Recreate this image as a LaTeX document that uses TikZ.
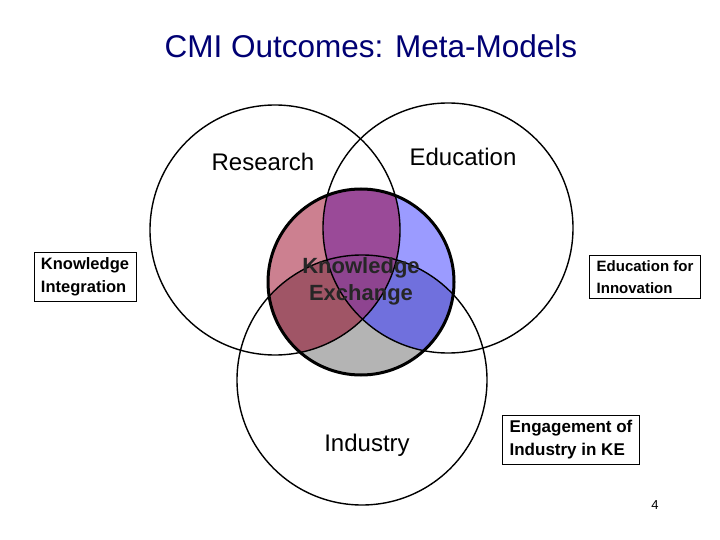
\documentclass[tikz,border=0pt]{standalone}
\usepackage{fontspec}
\setmainfont{Liberation Sans}
\begin{document}
\begin{tikzpicture}[x=1pt,y=-1pt,
  lbl/.style={font=\fontsize{24}{26}\selectfont},
  box/.style={draw=black,line width=0.6pt,align=left,inner xsep=7pt,inner ysep=5pt},
  circ/.style={draw=black,line width=1.4pt}]
\useasboundingbox (0,0) rectangle (720,540);
\def\R{(275,230) circle (125)}
\def\E{(448,228) circle (125)}
\def\I{(362,380) circle (125)}
\def\K{(361,282) circle (93)}
\definecolor{cR}{HTML}{CC8090}\definecolor{cE}{HTML}{9B9BFF}\definecolor{cI}{HTML}{B4B4B4}
\definecolor{cRE}{HTML}{9A4A98}\definecolor{cRI}{HTML}{A05566}\definecolor{cEI}{HTML}{7070DD}
\definecolor{cREI}{HTML}{8E4490}
\begin{scope}
 \clip \K;
 \fill[cR] \R; \fill[cE] \E; \fill[cI] \I;
 \begin{scope}\clip \R; \fill[cRE] \E; \fill[cRI] \I;\end{scope}
 \begin{scope}\clip \E; \begin{scope}\clip \I; \fill[cEI] (0,0) rectangle (720,540);\end{scope}\end{scope}
 \begin{scope}\clip \R; \clip \E; \fill[cREI] \I;\end{scope}
\end{scope}
\draw[circ] \R; \draw[circ] \E; \draw[circ] \I;
\draw[line width=3pt] \K;
\node[font=\fontsize{31.5}{34}\selectfont,text=blue!45!black] (title) at (371,46) {CMI Outcomes: Meta-Models};
\node[lbl] (res) at (263,162) {Research};
\node[lbl] (edu) at (463,157) {Education};
\node[lbl] (ind) at (367,445) {Industry};
\node[align=center,font=\bfseries\fontsize{22}{27}\selectfont,text=black!85] (ke) at (361,281) {Knowledge\\Exchange};
\node[box,font=\bfseries\fontsize{16.5}{23}\selectfont] (ki) at (85,277) {Knowledge\\Integration};
\node[box,font=\bfseries\fontsize{15}{22}\selectfont] (efi) at (645,277) {Education for\\Innovation};
\node[box,font=\bfseries\fontsize{17}{23}\selectfont] (eng) at (571,440) {Engagement of\\Industry in KE};
\node[font=\fontsize{13}{14}\selectfont] (pg) at (655,505) {4};
\end{tikzpicture}
\end{document}
